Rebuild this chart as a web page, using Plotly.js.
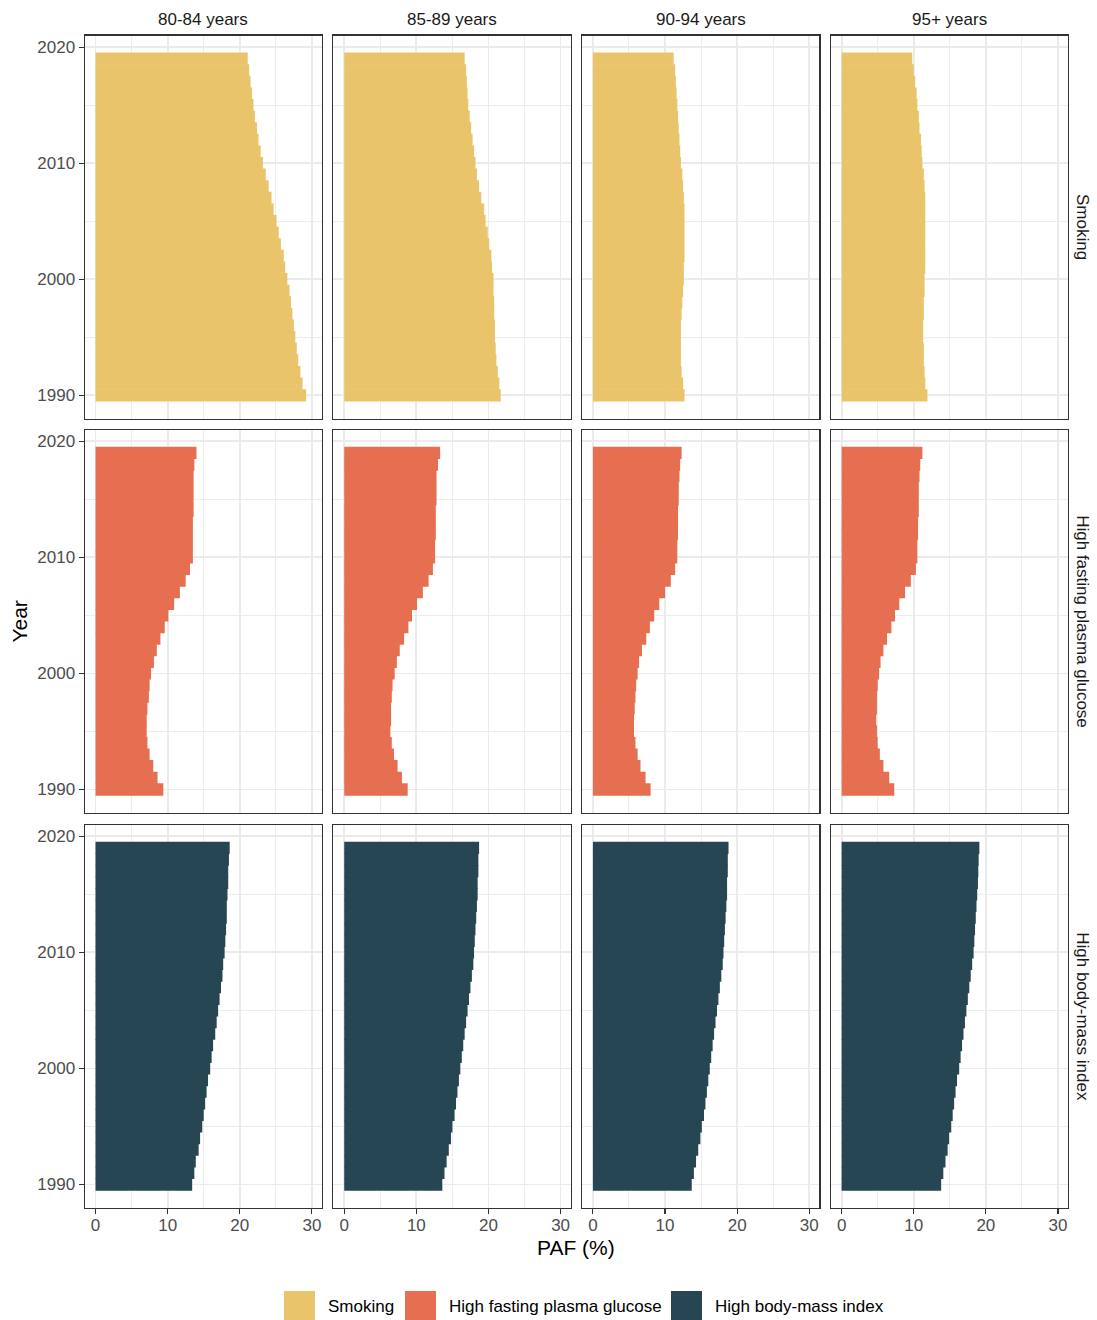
<!DOCTYPE html>
<html><head><meta charset="utf-8">
<script src="https://cdn.plot.ly/plotly-3.0.1.min.js"></script>
<style>body{margin:0;background:#fff}#chart{width:1097px;height:1320px}</style>
</head><body><div id="chart"></div>
<script>
const years = [1990,1991,1992,1993,1994,1995,1996,1997,1998,1999,2000,2001,2002,2003,2004,2005,2006,2007,2008,2009,2010,2011,2012,2013,2014,2015,2016,2017,2018,2019];
const ageGroups = ['80-84 years','85-89 years','90-94 years','95+ years'];
const riskFactors = ['Smoking','High fasting plasma glucose','High body-mass index'];
const xTickVals = [0,10,20,30];
const yTickVals = [1990,2000,2010,2020];

const smoking80 = [29.2,28.7,28.4,28.1,27.9,27.7,27.5,27.3,27.1,26.9,26.6,26.3,26.1,25.7,25.4,25.1,24.7,24.4,24.0,23.6,23.2,22.9,22.6,22.4,22.1,21.9,21.7,21.5,21.3,21.1];
const smoking85 = [21.7,21.5,21.3,21.1,21.0,20.9,20.9,20.8,20.8,20.7,20.7,20.5,20.4,20.1,19.9,19.6,19.4,19.0,18.7,18.4,18.2,18.0,17.8,17.6,17.4,17.2,17.1,17.0,16.9,16.7];
const smoking90 = [12.7,12.5,12.3,12.2,12.2,12.2,12.2,12.3,12.4,12.5,12.6,12.6,12.7,12.7,12.7,12.7,12.7,12.6,12.5,12.4,12.2,12.1,12.0,11.9,11.8,11.7,11.6,11.5,11.4,11.2];
const smoking95 = [11.9,11.6,11.5,11.4,11.4,11.3,11.3,11.4,11.4,11.5,11.5,11.6,11.6,11.6,11.6,11.6,11.6,11.6,11.5,11.4,11.2,11.1,11.0,10.8,10.7,10.5,10.4,10.2,10.0,9.8];

const fpg80 = [9.4,8.6,8.0,7.5,7.2,7.1,7.1,7.2,7.4,7.5,7.7,8.1,8.5,9.0,9.6,10.1,10.9,11.7,12.5,13.1,13.5,13.5,13.5,13.5,13.6,13.6,13.6,13.6,13.7,14.0];
const fpg85 = [8.8,8.0,7.4,6.9,6.6,6.4,6.5,6.5,6.6,6.7,7.0,7.3,7.7,8.3,8.9,9.4,10.1,10.9,11.7,12.3,12.6,12.6,12.7,12.7,12.7,12.8,12.8,12.8,13.0,13.3];
const fpg90 = [8.0,7.3,6.6,6.2,5.9,5.7,5.7,5.8,5.9,6.0,6.2,6.4,6.8,7.4,7.9,8.5,9.2,10.0,10.8,11.4,11.7,11.7,11.8,11.8,11.8,11.9,11.9,12.0,12.1,12.3];
const fpg95 = [7.3,6.6,5.8,5.3,5.0,4.9,4.8,4.9,4.9,5.0,5.2,5.4,5.8,6.3,6.9,7.4,8.0,8.8,9.6,10.3,10.5,10.5,10.6,10.6,10.7,10.7,10.7,10.8,10.9,11.2];

const bmi80 = [13.4,13.7,13.9,14.3,14.5,14.8,15.0,15.2,15.4,15.6,15.9,16.1,16.3,16.6,16.8,17.0,17.2,17.4,17.6,17.7,17.9,18.0,18.1,18.2,18.2,18.3,18.4,18.4,18.5,18.6];
const bmi85 = [13.6,13.9,14.2,14.5,14.8,15.0,15.3,15.5,15.7,15.9,16.1,16.3,16.5,16.7,16.9,17.1,17.3,17.5,17.7,17.9,18.0,18.1,18.2,18.3,18.4,18.5,18.5,18.6,18.6,18.7];
const bmi90 = [13.7,14.0,14.3,14.6,14.9,15.1,15.4,15.6,15.8,16.0,16.2,16.4,16.6,16.8,17.0,17.2,17.4,17.6,17.8,18.0,18.1,18.2,18.3,18.4,18.5,18.6,18.6,18.7,18.7,18.8];
const bmi95 = [13.8,14.1,14.4,14.7,14.9,15.2,15.4,15.6,15.8,16.0,16.3,16.5,16.7,16.9,17.1,17.3,17.5,17.7,17.9,18.1,18.3,18.4,18.5,18.6,18.7,18.8,18.9,18.95,19.0,19.1];

const colors = ['#E9C46A','#E76F51','#264653'];
const grid = [
  [smoking80, smoking85, smoking90, smoking95],
  [fpg80, fpg85, fpg90, fpg95],
  [bmi80, bmi85, bmi90, bmi95]
];

const W = 1097, H = 1320;
const FONT = 'Liberation Sans, Arial, sans-serif';
const colLeft = [84.7, 333.4, 582.1, 830.8];
const colW = 237.3;
const rowTop = [35.5, 429.7, 824.7];
const rowH = 383;
const px = p => p / W;
const py = p => 1 - p / H;

const traces = [];
const layout = {
  width: W, height: H,
  margin: {l: 0, r: 0, t: 0, b: 0},
  paper_bgcolor: '#ffffff', plot_bgcolor: '#ffffff',
  showlegend: false,
  font: {family: FONT, size: 17, color: '#1a1a1a'},
  annotations: [], shapes: []
};

for (let r = 0; r < 3; r++) {
  for (let c = 0; c < 4; c++) {
    const idx = r * 4 + c + 1;
    const s = idx === 1 ? '' : String(idx);
    traces.push({
      type: 'bar', orientation: 'h',
      x: grid[r][c], y: years, width: 1.06,
      marker: {color: colors[r], line: {width: 0}},
      name: riskFactors[r],
      xaxis: 'x' + s, yaxis: 'y' + s,
      hovertemplate: ageGroups[c] + '<br>%{y}: %{x}%<extra>' + riskFactors[r] + '</extra>'
    });
    layout['xaxis' + s] = {
      domain: [px(colLeft[c]), px(colLeft[c] + colW)],
      anchor: 'y' + s,
      range: [-1.5, 31.4],
      tickmode: 'array', tickvals: xTickVals, ticktext: xTickVals.map(String),
      showticklabels: r === 2,
      ticks: r === 2 ? 'outside' : '', ticklen: 5, tickwidth: 1.1, tickcolor: '#333333',
      ticklabelstandoff: -3,
      tickfont: {family: FONT, size: 17, color: '#4d4d4d'},
      showline: true, mirror: true, linecolor: '#333333', linewidth: 1.2,
      showgrid: true, gridcolor: '#ebebeb', gridwidth: 1.8,
      minor: {tickmode: 'array', tickvals: [5, 15, 25], showgrid: true, gridcolor: '#ebebeb', gridwidth: 0.9, ticks: ''},
      zeroline: false, fixedrange: true
    };
    layout['yaxis' + s] = {
      domain: [py(rowTop[r] + rowH), py(rowTop[r])],
      anchor: 'x' + s,
      range: [1988, 2021],
      tickmode: 'array', tickvals: yTickVals, ticktext: yTickVals.map(String),
      showticklabels: c === 0,
      ticks: c === 0 ? 'outside' : '', ticklen: 5, tickwidth: 1.1, tickcolor: '#333333',
      tickfont: {family: FONT, size: 17, color: '#4d4d4d'},
      showline: true, mirror: true, linecolor: '#333333', linewidth: 1.2,
      showgrid: true, gridcolor: '#ebebeb', gridwidth: 1.8,
      minor: {tickmode: 'array', tickvals: [1995, 2005, 2015], showgrid: true, gridcolor: '#ebebeb', gridwidth: 0.9, ticks: ''},
      zeroline: false, fixedrange: true
    };
  }
}

// column strip labels
ageGroups.forEach((g, c) => {
  layout.annotations.push({
    text: g, xref: 'paper', yref: 'paper',
    x: px(colLeft[c] + colW / 2), y: py(19),
    xanchor: 'center', yanchor: 'middle', showarrow: false,
    font: {family: FONT, size: 17, color: '#1a1a1a'}
  });
});
// row strip labels
riskFactors.forEach((f, r) => {
  layout.annotations.push({
    text: f, xref: 'paper', yref: 'paper',
    x: px(1083), y: py(rowTop[r] + rowH / 2),
    xanchor: 'center', yanchor: 'middle', showarrow: false, textangle: 90,
    font: {family: FONT, size: 17, color: '#1a1a1a'}
  });
});
// axis titles
layout.annotations.push({
  text: 'Year', xref: 'paper', yref: 'paper', x: px(20), y: py((rowTop[0] + rowTop[2] + rowH) / 2),
  xanchor: 'center', yanchor: 'middle', showarrow: false, textangle: -90,
  font: {family: FONT, size: 21, color: '#000000'}
});
layout.annotations.push({
  text: 'PAF (%)', xref: 'paper', yref: 'paper', x: px((colLeft[0] + colLeft[3] + colW) / 2), y: py(1247),
  xanchor: 'center', yanchor: 'middle', showarrow: false,
  font: {family: FONT, size: 21, color: '#000000'}
});
// legend
const keyX = [284, 405, 671];
riskFactors.forEach((f, r) => {
  layout.shapes.push({
    type: 'rect', xref: 'paper', yref: 'paper',
    x0: px(keyX[r]), x1: px(keyX[r] + 31), y0: py(1321), y1: py(1291),
    fillcolor: colors[r], line: {width: 0}, layer: 'above'
  });
  layout.annotations.push({
    text: f, xref: 'paper', yref: 'paper', x: px(keyX[r] + 42), y: py(1306),
    xanchor: 'left', yanchor: 'middle', showarrow: false,
    font: {family: FONT, size: 17, color: '#000000'}
  });
});

Plotly.newPlot('chart', traces, layout, {displayModeBar: false, staticPlot: true});
</script>
</body></html>
